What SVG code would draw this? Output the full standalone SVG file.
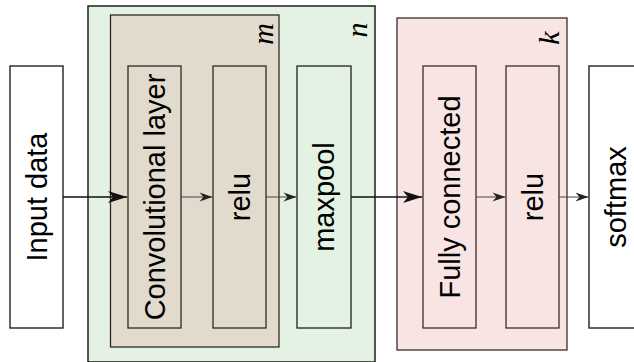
<svg xmlns="http://www.w3.org/2000/svg" width="634" height="362" viewBox="0 0 634 362">
<defs>
<style>
.lbl{font-family:"Liberation Sans",Arial,sans-serif;font-size:29px;fill:#000;text-anchor:middle}
.math{font-family:"Liberation Serif","Times New Roman",serif;font-style:italic;font-size:30px;fill:#000;text-anchor:middle}
.box{fill:#fff;stroke:#222;stroke-width:1.4}
.bbox{fill:#e3dace;stroke:#2e2a22;stroke-width:1.3}
.pbox{fill:#f9e4e4;stroke:#3a2c2c;stroke-width:1.3}
.big{stroke:#111;stroke-width:1.5;fill:none}
.small{stroke:#444;stroke-width:1;fill:none}
</style>
<marker id="ab" markerUnits="userSpaceOnUse" markerWidth="22" markerHeight="14" viewBox="-20 -7 22 14" refX="0" refY="0" orient="auto">
<path d="M0,0 L-19,-6 L-14,0 L-19,6 Z" fill="#111"/>
</marker>
<marker id="as" markerUnits="userSpaceOnUse" markerWidth="16" markerHeight="10" viewBox="-14 -5 16 10" refX="0" refY="0" orient="auto">
<path d="M0,0 L-13,-4.5 L-9,0 L-13,4.5 Z" fill="#222"/>
</marker>
</defs>
<rect width="634" height="362" fill="#fff"/>
<g id="group-n">
<rect x="88" y="6" width="287" height="356" fill="#e4f2e4" stroke="#1e1e1e" stroke-width="1.5"/>
<text class="math" transform="translate(367,30) rotate(-90)" x="0" y="0">n</text>
</g>
<g id="group-m">
<rect x="110.5" y="15" width="168.5" height="332" fill="#e3dace" stroke="#2e2a22" stroke-width="1.3"/>
<text class="math" transform="translate(273,34) rotate(-90)" x="0" y="0">m</text>
</g>
<g id="group-k">
<rect x="397" y="18" width="170" height="332" fill="#f9e4e4" stroke="#3a2c2c" stroke-width="1.3"/>
<text class="math" transform="translate(559,38) rotate(-90)" x="0" y="0">k</text>
</g>
<g id="input">
<rect class="box" x="10" y="66" width="53" height="262"/>
<text class="lbl" transform="translate(36.5,197) rotate(-90)" x="0" y="10.4">Input data</text>
</g>
<g id="conv">
<rect class="bbox" x="128" y="66" width="53" height="262"/>
<text class="lbl" transform="translate(154.5,197) rotate(-90)" x="0" y="10.4">Convolutional layer</text>
</g>
<g id="relu1">
<rect class="bbox" x="213" y="66" width="53" height="262"/>
<text class="lbl" transform="translate(239.5,197) rotate(-90)" x="0" y="10.4">relu</text>
</g>
<g id="maxpool">
<rect x="297" y="66" width="54" height="262" fill="#e4f2e4" stroke="#1e1e1e" stroke-width="1.3"/>
<text class="lbl" transform="translate(324,197) rotate(-90)" x="0" y="10.4">maxpool</text>
</g>
<g id="fc">
<rect class="pbox" x="423" y="66" width="53" height="262"/>
<text class="lbl" transform="translate(449.5,197) rotate(-90)" x="0" y="10.4">Fully connected</text>
</g>
<g id="relu2">
<rect class="pbox" x="506" y="66" width="53" height="262"/>
<text class="lbl" transform="translate(532.5,197) rotate(-90)" x="0" y="10.4">relu</text>
</g>
<g id="softmax">
<rect class="box" x="589" y="66" width="53" height="262"/>
<text class="lbl" transform="translate(615.5,197) rotate(-90)" x="0" y="10.4">softmax</text>
</g>
<g id="connectors">
<line class="big" x1="63" y1="197" x2="127" y2="197" marker-end="url(#ab)"/>
<line class="small" x1="181" y1="197" x2="212.5" y2="197" marker-end="url(#as)"/>
<line class="small" x1="266" y1="197" x2="296.5" y2="197" marker-end="url(#as)"/>
<line class="big" x1="351" y1="197" x2="422" y2="197" marker-end="url(#ab)"/>
<line class="small" x1="476" y1="197" x2="505.5" y2="197" marker-end="url(#as)"/>
<line class="small" x1="559" y1="197" x2="588.5" y2="197" marker-end="url(#as)"/>
</g>
</svg>
